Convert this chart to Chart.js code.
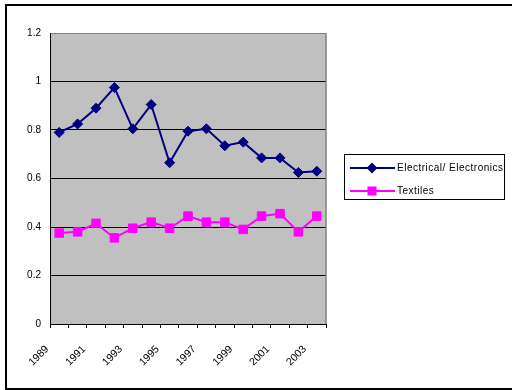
<!DOCTYPE html>
<html>
<head>
<meta charset="utf-8">
<script src="https://cdn.jsdelivr.net/npm/chart.js@4.4.1/dist/chart.umd.min.js"></script>
<style>
  html, body { margin: 0; padding: 0; background: #fff; }
  canvas { display: block; }
</style>
</head>
<body>
<canvas id="exportChart" width="512" height="390"></canvas>
<script>
// 年份（只隔年显示标签）
const years = ['1989', '1990', '1991', '1992', '1993', '1994', '1995', '1996',
               '1997', '1998', '1999', '2000', '2001', '2002', '2003'];

// 两个系列的数值
const electrical = [0.79, 0.825, 0.89, 0.975, 0.805, 0.905, 0.665, 0.795,
                    0.805, 0.735, 0.75, 0.685, 0.685, 0.625, 0.63];
const textiles = [0.375, 0.38, 0.415, 0.355, 0.395, 0.42, 0.395, 0.445,
                  0.42, 0.42, 0.39, 0.445, 0.455, 0.38, 0.445];

// Y轴刻度
const yTicks = [0, 0.2, 0.4, 0.6, 0.8, 1, 1.2];

const FONT = 'Liberation Sans, Arial, sans-serif';

// 绘图区背景、边框、外框和图例
const excelStylePlugin = {
    id: 'excelStyle',
    beforeDraw(chart) {
        const { ctx, chartArea: a } = chart;
        ctx.save();
        ctx.fillStyle = '#ffffff';
        ctx.fillRect(0, 0, chart.width, chart.height);
        ctx.fillStyle = '#c0c0c0';
        ctx.fillRect(a.left, a.top, a.right - a.left, a.bottom - a.top);
        ctx.restore();
    },
    afterDraw(chart) {
        const { ctx, chartArea: a } = chart;
        ctx.save();

        // 绘图区右侧灰色边框
        ctx.strokeStyle = '#808080';
        ctx.lineWidth = 1.5;
        ctx.beginPath();
        ctx.moveTo(a.right, a.top);
        ctx.lineTo(a.right, a.bottom);
        ctx.stroke();

        // 图表外框
        ctx.strokeStyle = '#000000';
        ctx.lineWidth = 2;
        ctx.strokeRect(6, 5, 600, 384);

        // 图例
        const box = { x: 344.5, y: 154.5, w: 160, h: 45 };
        ctx.lineWidth = 1;
        ctx.strokeRect(box.x, box.y, box.w, box.h);

        ctx.font = '10px ' + FONT;
        ctx.textBaseline = 'middle';
        ctx.letterSpacing = '0.5px';
        const rows = [168, 191];
        chart.data.datasets.forEach((ds, i) => {
            const y = rows[i];
            ctx.strokeStyle = ds.borderColor;
            ctx.lineWidth = ds.borderWidth;
            ctx.beginPath();
            ctx.moveTo(350, y);
            ctx.lineTo(395, y);
            ctx.stroke();
            Chart.helpers.drawPoint(ctx, {
                pointStyle: ds.pointStyle,
                radius: ds.legendRadius,
                rotation: 0,
                borderWidth: 1
            }, 372, y);
            ctx.fillStyle = ds.pointBackgroundColor;
            ctx.fill();
            ctx.fillStyle = '#000000';
            ctx.fillText(ds.label, 397, y);
        });
        ctx.restore();
    }
};

new Chart(document.getElementById('exportChart'), {
    type: 'line',
    data: {
        labels: years,
        datasets: [{
            label: 'Electrical/ Electronics',
            data: electrical,
            borderColor: '#000080',
            borderWidth: 2,
            pointStyle: 'rectRot',
            pointRadius: 5,
            legendRadius: 4,
            pointBackgroundColor: '#000080',
            pointBorderColor: '#000080',
            pointBorderWidth: 1,
            tension: 0
        }, {
            label: 'Textiles',
            data: textiles,
            borderColor: '#ff00ff',
            borderWidth: 2,
            pointStyle: 'rect',
            pointRadius: 6,
            legendRadius: 5,
            pointBackgroundColor: '#ff00ff',
            pointBorderColor: '#ff00ff',
            pointBorderWidth: 1,
            tension: 0
        }]
    },
    options: {
        responsive: false,
        devicePixelRatio: 1,
        animation: false,
        layout: {
            padding: { left: 0, top: 33, right: 186, bottom: 0 }
        },
        scales: {
            x: {
                offset: true,
                grid: {
                    offset: true,
                    drawOnChartArea: false,
                    drawTicks: true,
                    tickLength: 4,
                    color: '#000000'
                },
                border: { color: '#000000', width: 1 },
                ticks: {
                    autoSkip: false,
                    minRotation: 45,
                    maxRotation: 45,
                    padding: 15,
                    labelOffset: -12,
                    color: '#000000',
                    font: { family: FONT, size: 10.5 },
                    callback: function(value, index) {
                        return index % 2 === 0 ? years[index] : '';
                    }
                },
                afterFit(scale) { scale.height = 66; }
            },
            y: {
                min: yTicks[0],
                max: yTicks[yTicks.length - 1],
                afterBuildTicks(scale) {
                    scale.ticks = yTicks.map(v => ({ value: v }));
                },
                grid: {
                    drawTicks: false,
                    color: ctx => ctx.tick && ctx.tick.value === 1.2 ? '#808080' : '#000000',
                    lineWidth: 1
                },
                border: { color: '#000000', width: 1 },
                ticks: {
                    padding: 9,
                    color: '#000000',
                    font: { family: FONT, size: 10 },
                    callback: value => String(value)
                },
                afterFit(scale) { scale.width = 50; }
            }
        },
        plugins: {
            legend: { display: false },
            tooltip: { enabled: false }
        }
    },
    plugins: [excelStylePlugin]
});
</script>
</body>
</html>
